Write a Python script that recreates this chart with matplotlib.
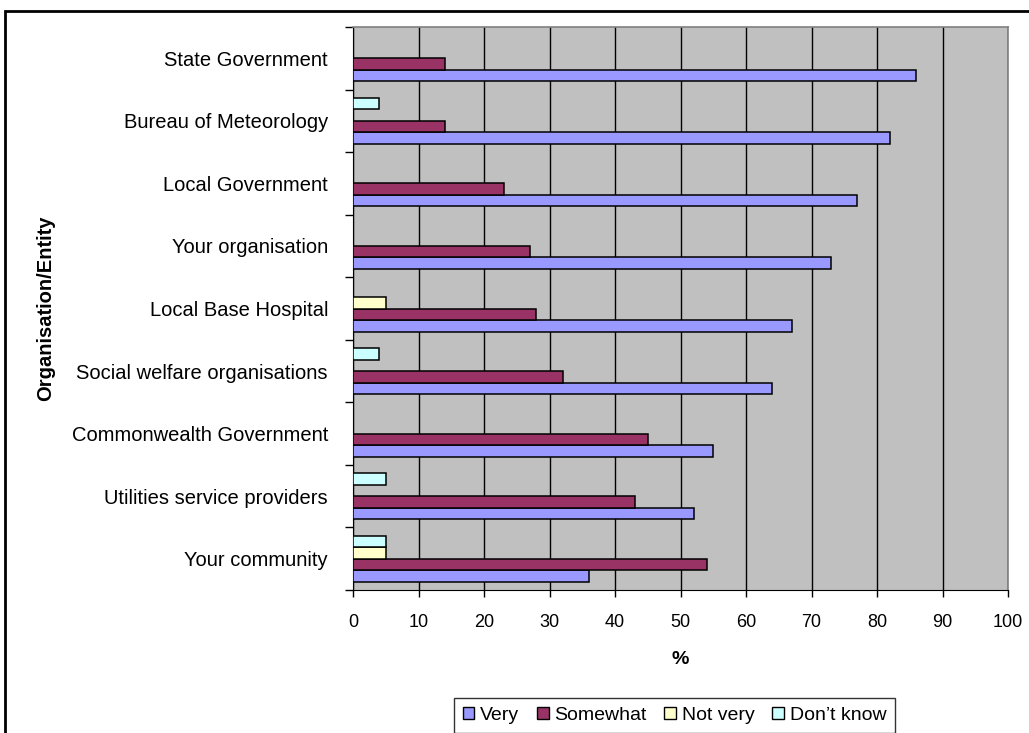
import numpy as np
import matplotlib
matplotlib.use("Agg")
from matplotlib import pyplot as plt
from matplotlib.patches import Rectangle, Patch

plt.rcParams['font.family'] = ['Liberation Sans', 'DejaVu Sans']

# categories from bottom to top
categories = ["Your community", "Utilities service providers", "Commonwealth Government",
              "Social welfare organisations", "Local Base Hospital", "Your organisation",
              "Local Government", "Bureau of Meteorology", "State Government"]
very = [36, 52, 55, 64, 67, 73, 77, 82, 86]
somewhat = [54, 43, 45, 32, 28, 27, 23, 14, 14]
not_very = [5, 0, 0, 0, 5, 0, 0, 0, 0]
dont_know = [5, 5, 0, 4, 0, 0, 0, 4, 0]

series = [("Very", very, "#9999FF"),
          ("Somewhat", somewhat, "#993366"),
          ("Not very", not_very, "#FFFFCC"),
          ("Don\u2019t know", dont_know, "#CCFFFF")]

fig = plt.figure(figsize=(10.29, 7.33), dpi=100)
ax = fig.add_axes([353 / 1029, 1 - 590 / 733, 655 / 1029, 563 / 733])
ax.set_facecolor("#C0C0C0")

h = 0.184
y = np.arange(len(categories))
for k, (name, vals, col) in enumerate(series):
    off = (k - 1.5) * h
    vals = np.array(vals)
    m = vals > 0
    ax.barh(y[m] + off, vals[m], height=h, color=col, edgecolor="black",
            linewidth=1.1, zorder=3)

ax.set_xlim(0, 100)
ax.set_ylim(-0.5, len(categories) - 0.5)
ax.set_xticks(range(0, 101, 10))
ax.tick_params(axis="x", labelsize=13, length=5, width=1, pad=12, direction="out")
ax.grid(axis="x", color="black", linewidth=1, zorder=1)

# category labels centred, tick marks on the boundaries
ax.set_yticks(y)
ax.set_yticklabels(categories, fontsize=14.5)
ax.tick_params(axis="y", length=0, pad=18)
ax.set_yticks(np.arange(-0.5, len(categories)), minor=True)
ax.tick_params(axis="y", which="minor", length=6, width=1, direction="out")

for s in ["top", "right"]:
    ax.spines[s].set_color("#808080")
    ax.spines[s].set_linewidth(1.2)
ax.spines["left"].set_color("black")
ax.spines["bottom"].set_color("black")

ax.set_xlabel("%", fontsize=14, fontweight="bold", labelpad=15)
ax.set_ylabel("Organisation/Entity", fontsize=14.5, fontweight="bold")
ax.yaxis.set_label_coords(-0.455, 0.5)

handles = [Patch(facecolor=c, edgecolor="black", linewidth=1, label=n) for n, _, c in series]
leg = fig.legend(handles=handles, loc="upper center", bbox_to_anchor=(0.6555, 0.061),
                 ncol=4, fontsize=14, frameon=True, fancybox=False, edgecolor="black",
                 handlelength=0.6, handleheight=0.6, handletextpad=0.3,
                 columnspacing=0.9, borderpad=0.45)
leg.get_frame().set_linewidth(1)

# outer chart border
fig.patches.append(Rectangle((5 / 1029, -0.5), 2, 1 - 11 / 733 + 0.5, transform=fig.transFigure,
                             fill=False, edgecolor="black", linewidth=2))

fig.savefig("out.png", dpi=100)
